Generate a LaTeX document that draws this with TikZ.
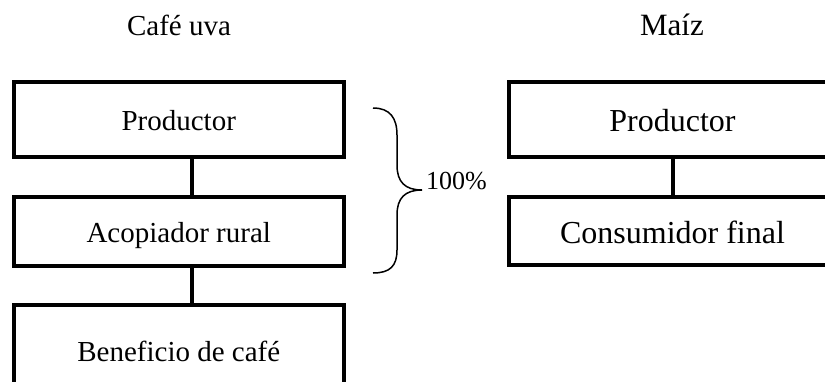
\documentclass[tikz,border=0pt]{standalone}
\usepackage{fontspec}
\setmainfont{Liberation Serif}
\begin{document}
\begin{tikzpicture}[x=1pt,y=-1pt,
  boxL/.style={draw,line width=4pt,rectangle,inner sep=0pt,minimum width=329.5pt,
    text height=24pt,text depth=2pt,font=\fontsize{29}{34}\selectfont},
  boxR/.style={draw,line width=4pt,rectangle,inner sep=0pt,minimum width=328pt,
    text height=27pt,text depth=2pt,font=\fontsize{32}{38}\selectfont},
  link/.style={line width=4pt},
  bracestyle/.style={line width=1.5pt}]
\useasboundingbox (0,0) rectangle (825,381);
\clip (0,0) rectangle (825,381);
% titles
\node[anchor=base,inner sep=0pt,font=\fontsize{29}{34}\selectfont] (t1) at (179,35) {Café uva};
\node[anchor=base,inner sep=0pt,font=\fontsize{31}{36}\selectfont] (t2) at (672,35) {Maíz};
% left column
\node[boxL,minimum height=74.5pt] (l1) at (178.75,119.25) {Productor};
\node[boxL,minimum height=69pt] (l2) at (178.75,231.5) {Acopiador rural};
\node[boxL,minimum height=84pt,text height=30pt] (l3) at (178.75,347) {Beneficio de café};
\draw[link] ([xshift=13.25pt]l1.south) -- ([xshift=13.25pt]l2.north);
\draw[link] ([xshift=13.25pt]l2.south) -- ([xshift=13.25pt]l3.north);
% right column
\node[boxR,minimum height=74.5pt] (r1) at (672.5,119.25) {Productor};
\node[boxR,minimum height=68pt] (r2) at (672.5,231) {Consumidor final};
\draw[link] (r1.south) -- (r2.north);
% brace
\coordinate (btop) at (373,108);
\coordinate (btip) at (422,190);
\coordinate (bbot) at (373,273);
\draw[bracestyle] (btop) .. controls (390,108) and (397,118) .. (397,135) -- (397,165)
  .. controls (397,182) and (405,190) .. (btip)
  .. controls (405,190) and (397,198) .. (397,215) -- (397,250)
  .. controls (397,266) and (390,273) .. (bbot);
\node[anchor=base west,inner sep=0pt,font=\fontsize{26}{30}\selectfont] (pct) at (426,189) {100\%};
\end{tikzpicture}
\end{document}
